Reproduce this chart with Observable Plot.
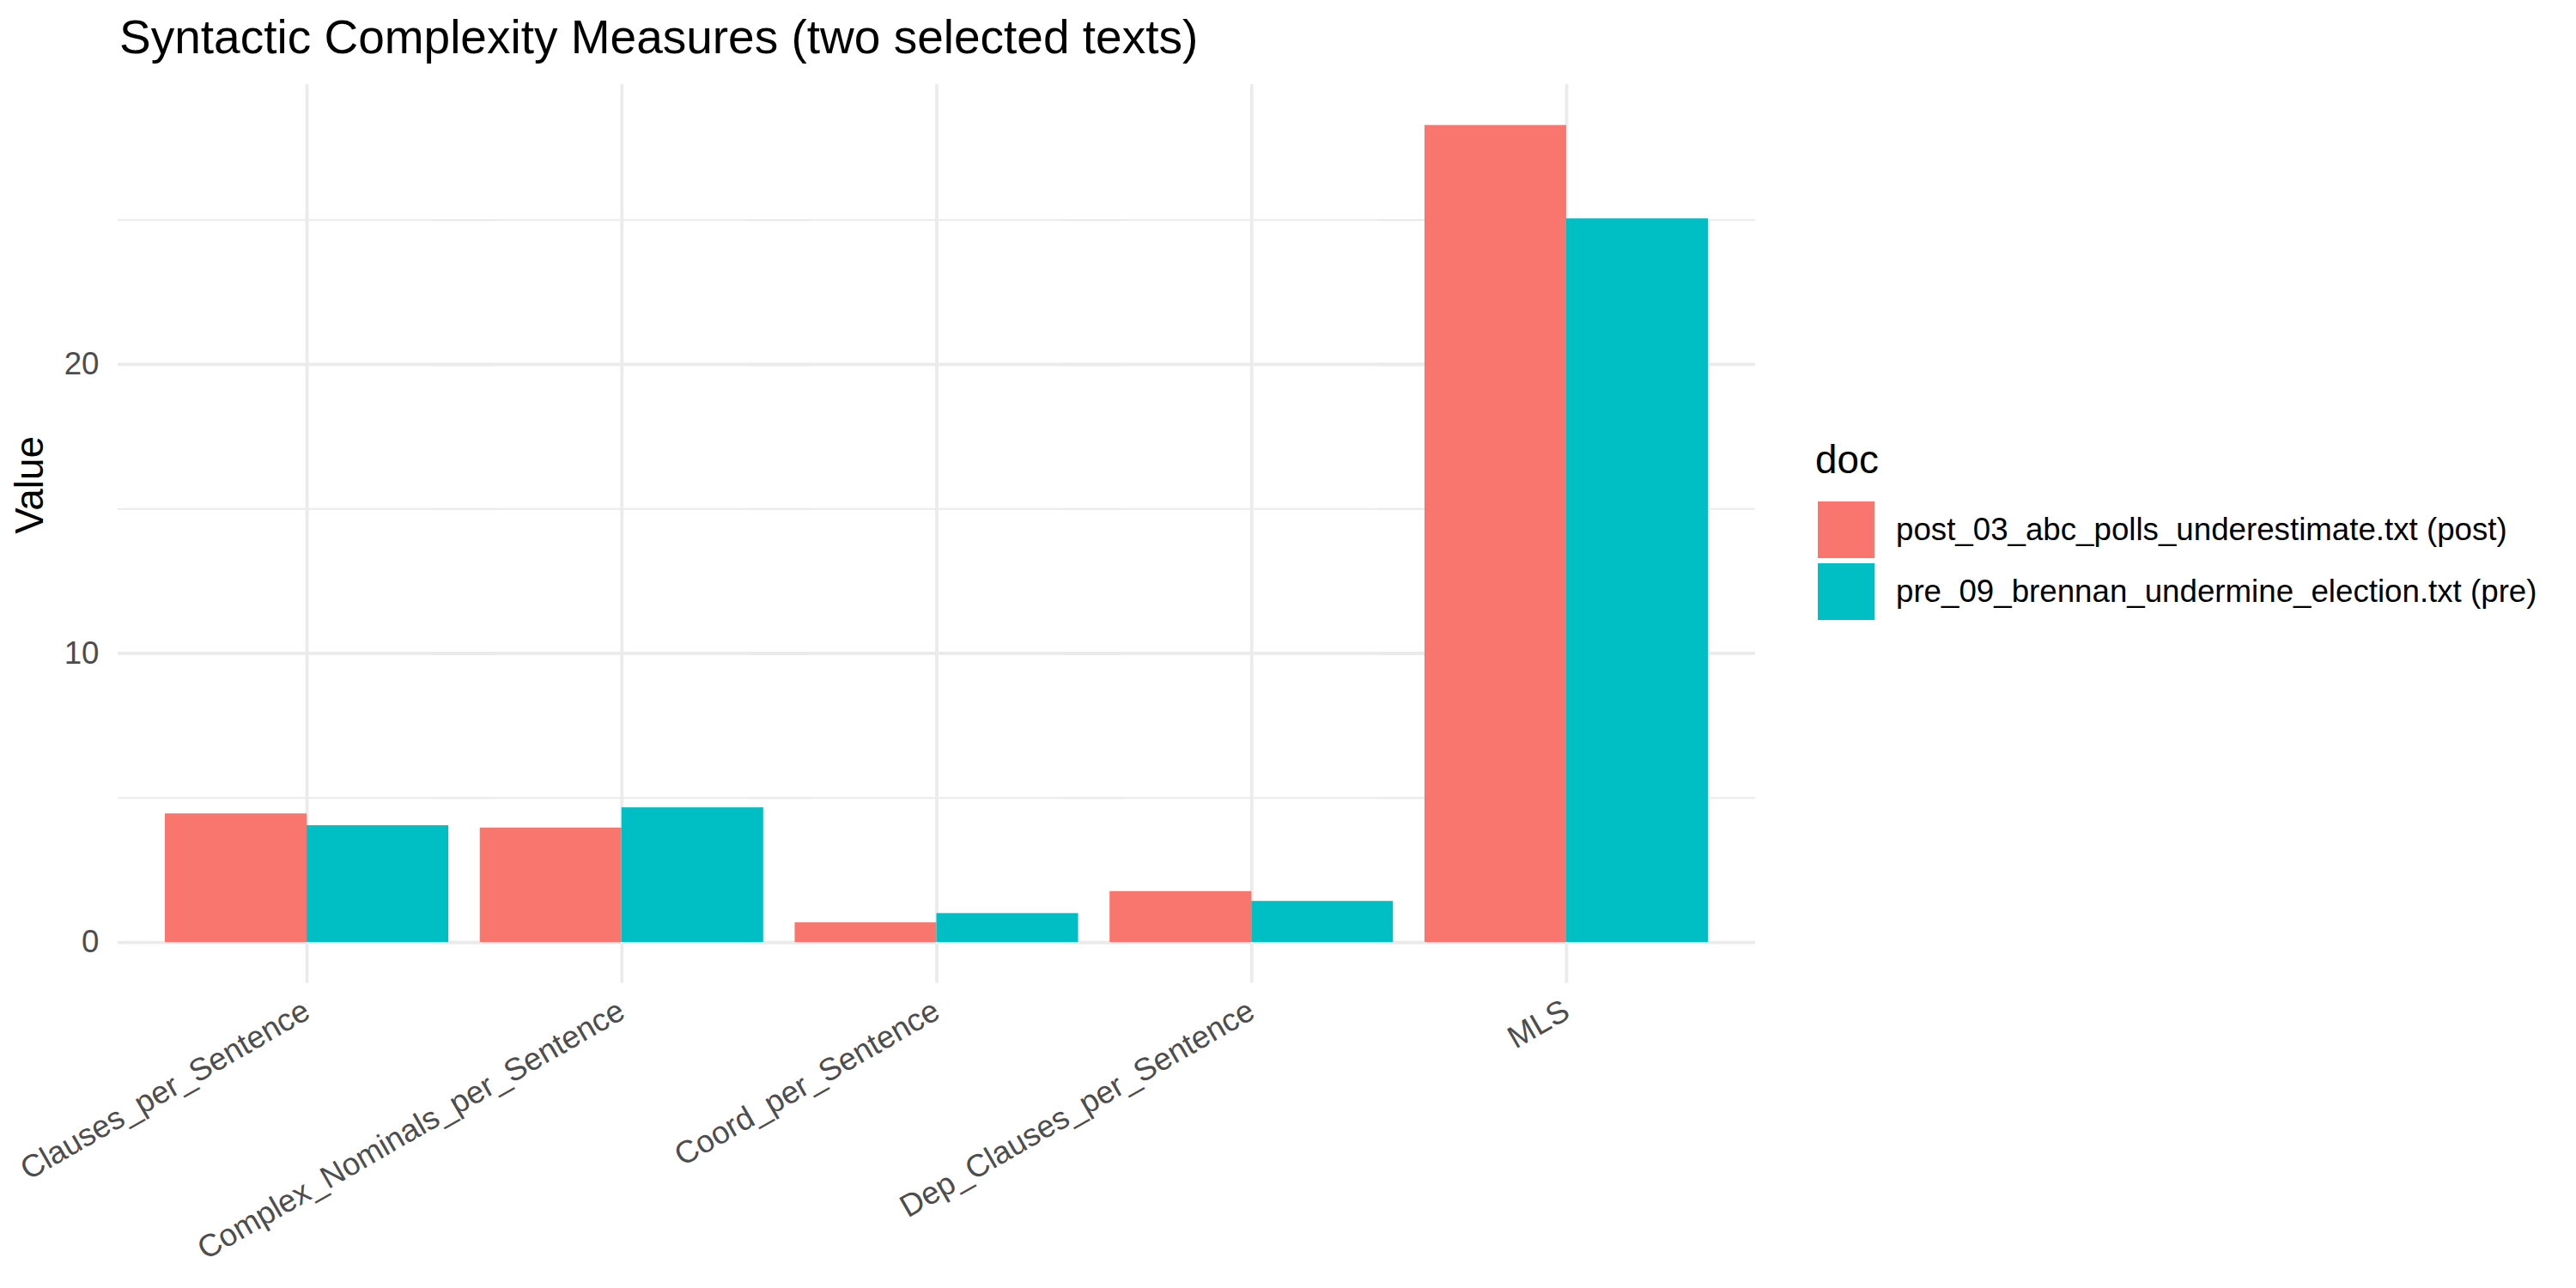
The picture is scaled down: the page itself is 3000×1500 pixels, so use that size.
<!DOCTYPE html>
<html><head><meta charset="utf-8">
<script src="https://cdn.jsdelivr.net/npm/d3@7"></script>
<script src="https://cdn.jsdelivr.net/npm/@observablehq/plot@0.6"></script>
<style>
html,body{margin:0;padding:0;background:#fff;}
#page{position:relative;width:3000px;height:1500px;background:#fff;font-family:"Liberation Sans",Arial,sans-serif;overflow:hidden;}
#title{position:absolute;left:139px;top:16px;font-size:55px;line-height:1;color:#000;white-space:nowrap;}
#chart{position:absolute;left:0;top:80px;}
#legend{position:absolute;left:2114px;top:513px;color:#000;}
#legend .ltitle{font-size:45.8px;line-height:45.8px;height:68px;white-space:nowrap;}
#legend .row{display:flex;align-items:center;height:72px;}
#legend .key{width:72px;height:72px;display:flex;align-items:center;justify-content:center;}
#legend .key div{width:66px;height:66px;}
#legend .lab{font-size:36.7px;margin-left:22px;white-space:nowrap;}
</style></head>
<body><div id="page"><div id="title">Syntactic Complexity Measures (two selected texts)</div><div id="chart"></div><div id="legend"></div></div>
<script>
const measures = ["Clauses_per_Sentence", "Complex_Nominals_per_Sentence", "Coord_per_Sentence", "Dep_Clauses_per_Sentence", "MLS"];
const docs = ["post_03_abc_polls_underestimate.txt (post)", "pre_09_brennan_undermine_election.txt (pre)"];
const postValues = [4.45, 3.96, 0.68, 1.76, 28.27];
const preValues = [4.04, 4.66, 1.00, 1.42, 25.04];
const docColors = ["#F8766D", "#00BFC4"];
const majorTicks = [0, 10, 20];
const minorTicks = [5, 15, 25];
const yLabel = "Value";
const legendTitle = "doc";

const rows = [];
measures.forEach((m, i) => {
  rows.push({measure: m, doc: docs[0], value: postValues[i]});
  rows.push({measure: m, doc: docs[1], value: preValues[i]});
});
const vmax = d3.max(rows, d => d.value);
const yDomain = [-0.05 * vmax, 1.05 * vmax];

// panel (ggplot-style) spans x 137..2044; discrete expansion of 0.6 band on each side
const W = 3000, H = 1420, panelL = 137, panelR = 2044;
const step = (panelR - panelL) / (measures.length + 0.2);
const outer = 0.1 * step;
const mL = panelL + outer, mR = W - panelR + outer, mT = 18, mB = 355.4;
const ext = -outer; // horizontal grid reaches the panel edges

const gridColor = "#EBEBEB";
const marks = [];
if (Plot.gridFx) marks.push(Plot.gridFx({stroke: gridColor, strokeOpacity: 1, strokeWidth: 3.8}));
marks.push(
  Plot.ruleY(minorTicks, {stroke: gridColor, strokeWidth: 2, insetLeft: ext, insetRight: ext}),
  Plot.ruleY(majorTicks, {stroke: gridColor, strokeWidth: 3.8, insetLeft: ext, insetRight: ext}),
  Plot.barY(rows, {fx: "measure", x: "doc", y: "value", fill: "doc"}),
  Plot.axisY(majorTicks, {tickSize: 0, tickPadding: 0, dx: 115 - mL, fontSize: 36.7, fill: "#4D4D4D", label: null}),
  Plot.axisFx({anchor: "bottom", tickRotate: -30, tickSize: 0, tickPadding: 29, fontSize: 36.7, fill: "#4D4D4D", label: null}),
  Plot.text([yLabel], {facet: "super", frameAnchor: "left", rotate: -90, dx: 35 - mL, fontSize: 45.8, fill: "#000", text: d => d})
);

const plot = Plot.plot({
  width: W,
  height: H,
  marginLeft: mL,
  marginRight: mR,
  marginTop: mT,
  marginBottom: mB,
  facet: {marginLeft: 0, marginRight: 0, marginTop: 0, marginBottom: 0},
  style: {fontFamily: "'Liberation Sans', Arial, sans-serif", fontSize: "36.7px", background: "white", color: "#4D4D4D", overflow: "visible"},
  fx: {domain: measures, paddingInner: 0, paddingOuter: 0, round: false, label: null},
  x: {domain: docs, paddingInner: 0, paddingOuter: 1 / 9, round: false, axis: null},
  y: {domain: yDomain},
  color: {domain: docs, range: docColors},
  marks
});
document.getElementById("chart").appendChild(plot);

const color = plot.scale("color");
const legend = document.getElementById("legend");
const t = document.createElement("div");
t.className = "ltitle";
t.textContent = legendTitle;
legend.appendChild(t);
color.domain.forEach((d, i) => {
  const row = document.createElement("div");
  row.className = "row";
  const key = document.createElement("div");
  key.className = "key";
  const sw = document.createElement("div");
  sw.style.background = color.range[i];
  key.appendChild(sw);
  const lab = document.createElement("div");
  lab.className = "lab";
  lab.textContent = d;
  row.appendChild(key);
  row.appendChild(lab);
  legend.appendChild(row);
});
</script>
</body></html>
